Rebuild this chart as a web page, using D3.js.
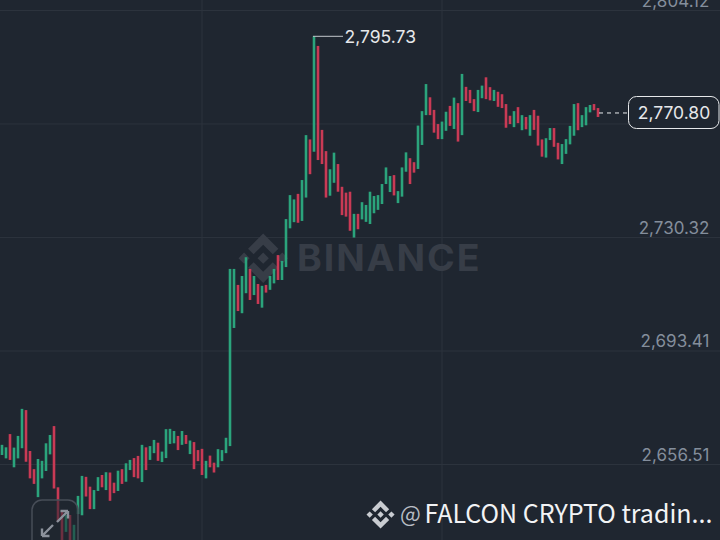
<!DOCTYPE html>
<html>
<head>
<meta charset="utf-8">
<script src="https://cdn.jsdelivr.net/npm/d3@7/dist/d3.min.js"></script>
<style>
html,body{margin:0;padding:0;background:#1f2630;overflow:hidden}
svg{display:block}
</style>
</head>
<body>
<svg id="chart" width="720" height="540"></svg>
<script>
const priceTicks = [2804.12, 2767.22, 2730.32, 2693.41, 2656.51];
const tickLabels = ["2,804.12", "", "2,730.32", "2,693.41", "2,656.51"];
const lastPrice = 2770.80;
const highPrice = 2795.73;
const lastPriceLabel = "2,770.80";
const highPriceLabel = "2,795.73";
const watermark = "BINANCE";
const footerAt = "@";
const footerText = "FALCON CRYPTO tradin...";

const highs = [2662.9,2662.1,2666.4,2662.0,2665.8,2674.6,2674.2,2660.9,2655.0,2658.3,
2657.7,2663.4,2666.1,2669.0,2649.1,2641.2,2640.1,2640.1,2636.9,2646.3,
2652.8,2652.5,2649.3,2648.2,2652.4,2653.1,2654.0,2653.9,2650.6,2654.5,
2655.0,2656.9,2658.0,2658.6,2659.3,2662.9,2662.1,2662.5,2664.5,2663.6,
2660.7,2668.0,2668.1,2667.4,2665.8,2667.4,2666.1,2664.3,2663.8,2661.2,
2661.6,2657.7,2659.4,2657.1,2661.5,2661.2,2665.2,2720.1,2720.1,2714.9,
2717.8,2723.9,2720.1,2717.8,2715.2,2714.6,2714.9,2717.8,2720.1,2724.6,
2722.7,2736.3,2744.1,2742.7,2744.5,2749.0,2763.6,2762.2,2795.73,2792.6,
2765.3,2758.4,2752.5,2757.9,2754.2,2746.8,2744.9,2745.2,2738.0,2738.0,
2741.8,2740.9,2745.2,2743.8,2744.1,2747.7,2753.1,2750.3,2750.6,2745.4,
2753.1,2758.0,2756.1,2754.8,2766.7,2771.4,2780.2,2775.9,2771.8,2767.2,
2768.0,2771.2,2773.1,2775.8,2774.0,2783.5,2779.3,2778.3,2775.3,2778.3,
2779.7,2782.4,2779.2,2778.3,2777.7,2776.9,2773.7,2769.9,2771.4,2772.7,
2770.1,2769.5,2770.1,2771.8,2769.9,2762.2,2762.6,2765.9,2765.9,2761.1,
2760.7,2762.3,2766.6,2773.7,2774.0,2770.1,2772.7,2773.4,2773.7,2772.4];

const lows = [2659.6,2658.5,2658.0,2655.6,2658.5,2661.8,2657.4,2652.0,2650.2,2645.9,
2652.0,2654.4,2659.8,2648.7,2637.9,2630.4,2634.6,2630.4,2630.4,2640.4,
2640.0,2646.1,2642.0,2642.0,2647.9,2649.1,2648.2,2644.7,2647.2,2647.9,
2650.2,2650.9,2654.7,2652.4,2652.0,2650.8,2654.7,2658.0,2660.2,2657.7,
2657.3,2658.6,2663.2,2663.4,2661.2,2662.9,2663.2,2659.9,2655.0,2657.6,
2653.1,2652.0,2655.6,2653.9,2655.6,2657.6,2660.2,2662.5,2700.9,2706.4,
2705.7,2712.2,2710.0,2711.6,2708.7,2707.5,2712.4,2713.3,2715.4,2716.5,
2716.5,2720.7,2733.3,2735.3,2735.1,2735.7,2743.3,2750.9,2758.2,2755.5,
2754.2,2743.3,2743.9,2748.1,2745.2,2737.6,2737.1,2732.5,2730.3,2733.0,
2736.2,2735.4,2734.7,2738.2,2739.3,2741.2,2747.7,2745.1,2744.0,2741.5,
2743.6,2751.7,2747.7,2751.4,2752.6,2760.4,2770.1,2770.1,2764.4,2762.3,
2762.3,2765.0,2766.6,2765.6,2761.5,2763.6,2774.7,2774.0,2771.4,2771.1,
2775.6,2775.3,2774.9,2774.7,2772.8,2772.4,2766.0,2767.2,2766.2,2767.5,
2765.2,2765.5,2763.4,2765.3,2760.2,2756.6,2756.3,2762.0,2759.8,2755.7,
2754.2,2757.5,2760.6,2763.4,2765.2,2766.2,2766.8,2771.0,2771.7,2769.5];

// 1 = rising candle, 0 = falling candle
const rising = [1,1,0,1,1,1,0,0,0,1,
1,1,1,0,0,0,1,0,1,1,
1,0,0,1,1,0,1,0,0,1,
0,1,1,0,0,1,0,1,1,0,
1,1,1,1,0,1,0,1,0,0,
0,1,0,0,1,1,1,1,1,0,
1,1,0,1,0,1,0,1,1,0,
1,1,1,1,0,1,1,0,1,0,
0,0,1,1,0,0,0,0,1,0,
1,1,1,1,1,1,1,1,0,1,
1,1,0,0,1,1,1,0,0,0,
1,1,0,1,0,1,0,0,0,1,
1,0,0,1,0,0,0,0,1,0,
1,0,1,0,0,0,1,1,0,0,
1,1,1,1,0,1,1,1,0,0];

const BG = "#1f2630", GREEN = "#2ba47c", RED = "#c93a55", GRID = "#2c333d", AXIS = "#848e9c";
const LOGO = "M38.73 53.2l24.59-24.58 24.6 24.6 14.3-14.31L63.32 0 24.42 38.9l14.31 14.3zM0 63.31l14.3-14.31 14.31 14.31-14.31 14.3zM38.73 73.41l24.59 24.59 24.6-24.6 14.31 14.29-.01.01-38.9 38.91-38.91-38.88-.02-.02zM98 63.31l14.3-14.31 14.31 14.3-14.31 14.32zM77.83 63.3L63.32 48.78 52.59 59.51l-1.24 1.23-2.54 2.54 14.51 14.5 14.5-14.47z";

const svg = d3.select("#chart");
svg.append("rect").attr("width",720).attr("height",540).attr("fill",BG);

const x = d3.scaleLinear().domain([0, highs.length-1]).range([2, 598]);
const y = d3.scaleLinear().domain([2656.51, 2804.12]).range([464.5, 10.5]);

// vertical grid
const vGrid = [50, 110];
svg.append("g").selectAll("line").data(vGrid).join("line")
  .attr("x1", d=>x(d)).attr("x2", d=>x(d)).attr("y1",0).attr("y2",540)
  .attr("stroke",GRID).attr("stroke-width",1);
// horizontal grid
svg.append("g").selectAll("line").data(priceTicks).join("line")
  .attr("x1",0).attr("x2",720).attr("y1",d=>y(d)).attr("y2",d=>y(d))
  .attr("stroke",GRID).attr("stroke-width",1);

// watermark
svg.append("path").attr("d",LOGO)
  .attr("transform","translate(238.5,233.5) scale(0.39)").attr("fill","#373d47");
svg.append("text").text(watermark).attr("x",297).attr("y",271)
  .attr("font-family","Inter, 'Liberation Sans', sans-serif").attr("font-weight",700)
  .attr("font-size",37.5).attr("letter-spacing",1.9).attr("fill","#373d47");

// candles
const idx = d3.range(highs.length);
svg.append("g").selectAll("rect").data(idx).join("rect")
  .attr("x", i=>x(i)-1.3).attr("width",2.6)
  .attr("y", i=>y(highs[i])).attr("height", i=>y(lows[i])-y(highs[i]))
  .attr("fill", i=>rising[i]?GREEN:RED);

// tick labels
svg.append("g").selectAll("text").data(priceTicks).join("text")
  .text((d,i)=>tickLabels[i])
  .attr("x",709.5).attr("y",d=>y(d)-10).attr("dy","0.36em").attr("text-anchor","end")
  .attr("font-family","Inter, sans-serif").attr("font-size",17).attr("letter-spacing",0.05).attr("fill",AXIS);

// high marker
svg.append("path")
  .attr("d",d3.line()([[x(78)-1,y(highPrice)],[343,y(highPrice)]]))
  .attr("stroke","#c4c8ce").attr("stroke-width",1).attr("fill","none");
svg.append("text").text(highPriceLabel).attr("x",344.5).attr("y",y(highPrice)).attr("dy","0.36em")
  .attr("font-family","Inter, sans-serif").attr("font-size",17.5).attr("fill","#e6e8ea");

// last price
svg.append("line").attr("x1",x(149)+1).attr("x2",628).attr("y1",y(lastPrice)).attr("y2",y(lastPrice))
  .attr("stroke","#eaecef").attr("stroke-width",1).attr("stroke-dasharray","4 4");
svg.append("rect").attr("x",628.5).attr("y",96.5).attr("width",90.5).attr("height",32).attr("rx",8)
  .attr("fill",BG).attr("stroke","#e6e8ea").attr("stroke-width",1);
svg.append("text").text(lastPriceLabel).attr("x",674).attr("y",113).attr("dy","0.36em").attr("text-anchor","middle")
  .attr("font-family","Inter, sans-serif").attr("font-size",17.5).attr("fill","#e6e8ea");

// expand button
svg.append("rect").attr("x",32).attr("y",500).attr("width",46).attr("height",60).attr("rx",10)
  .attr("fill",BG).attr("fill-opacity",0.55).attr("stroke","#474d57").attr("stroke-width",1.5);
const arrow = "M42 536L53 525M42 536V528.5M42 536H49.5M68 511L57 522M68 511V518.5M68 511H60.5";
svg.append("path").attr("d",arrow).attr("stroke","#8b919b").attr("stroke-width",2.4).attr("fill","none");

// footer
svg.append("path").attr("d",LOGO)
  .attr("transform","translate(366.5,500.5) scale(0.222)").attr("fill","#c9ccd1");
svg.append("text").text(footerAt).attr("x",400).attr("y",522)
  .attr("font-family","'Noto Sans CJK SC','Noto Sans',sans-serif").attr("font-size",22).attr("fill","#b7bcc3");
svg.append("text").text(footerText).attr("x",424.5).attr("y",523)
  .attr("font-family","'Noto Sans CJK SC','Noto Sans',sans-serif").attr("font-size",25).attr("fill","#f2f3f5");
</script>
</body>
</html>
